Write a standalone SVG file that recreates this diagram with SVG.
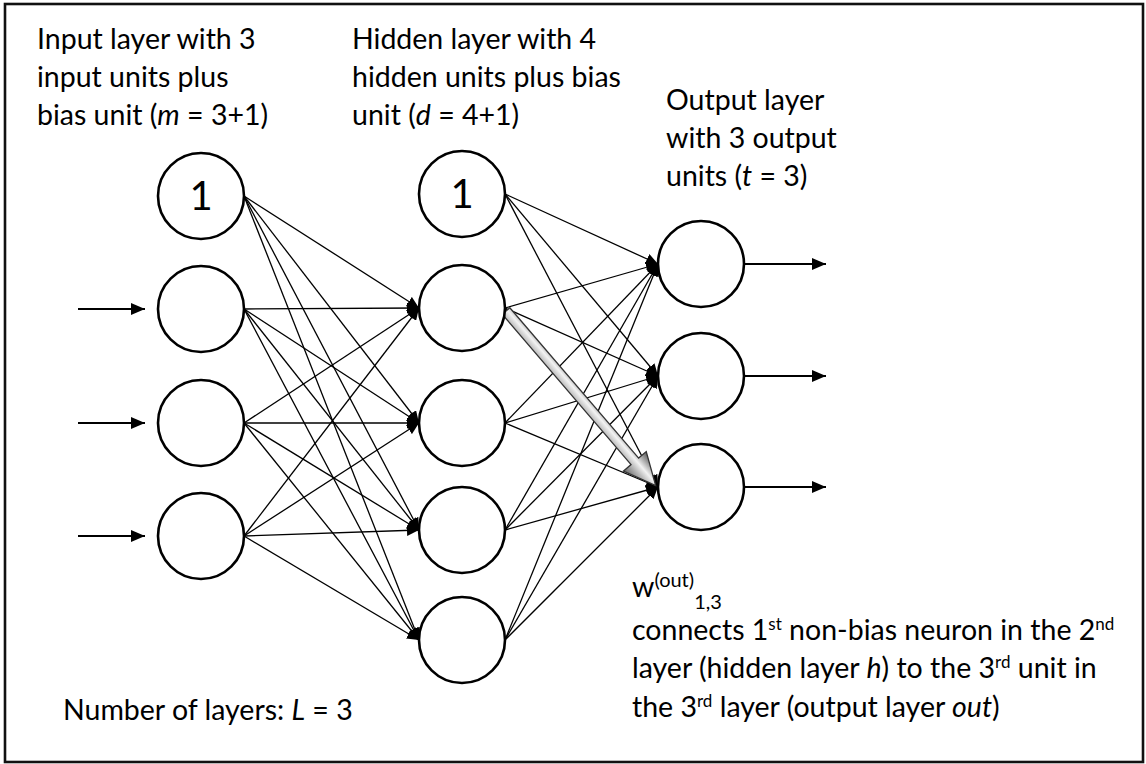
<svg xmlns="http://www.w3.org/2000/svg" width="1146" height="764" viewBox="0 0 1146 764">
<style>
.node{fill:#fff;stroke:#000;stroke-width:2.6}
.edge{stroke:#000;stroke-width:1.3;fill:none;marker-end:url(#ah)}
.io{stroke:#000;stroke-width:2;fill:none;marker-end:url(#big)}
text{font-family:Lato,"Noto Sans","DejaVu Sans",sans-serif;font-size:28.5px;fill:#000}
.bias{font-size:40px;text-anchor:middle}
.sup{font-size:17px}
.supw{font-size:20px}
</style>
<defs>
<marker id="ah" markerUnits="userSpaceOnUse" markerWidth="12" markerHeight="11" refX="12" refY="5.5" orient="auto">
<path d="M0,0 L12,5.5 L0,11 z" fill="#000"/>
</marker>
<marker id="big" markerUnits="userSpaceOnUse" markerWidth="14" markerHeight="12" refX="14" refY="6" orient="auto">
<path d="M0,0 L14,6 L0,12 z" fill="#000"/>
</marker>
<linearGradient id="gg" x1="0" y1="0" x2="0" y2="1">
<stop offset="0" stop-color="#555"/>
<stop offset="0.45" stop-color="#f2f2f2"/>
<stop offset="1" stop-color="#666"/>
</linearGradient>
</defs>
<rect x="5" y="4" width="1138" height="758" fill="#fff" stroke="#111" stroke-width="2.6"/>

<g id="labels">
<text x="37" y="49">Input layer with 3</text>
<text x="37" y="87">input units plus</text>
<text x="37" y="125">bias unit (<tspan font-style="italic">m</tspan> = 3+1)</text>
<text x="352" y="49">Hidden layer with 4</text>
<text x="352" y="87">hidden units plus bias</text>
<text x="352" y="125">unit (<tspan font-style="italic">d</tspan> = 4+1)</text>
<text x="666" y="110">Output layer</text>
<text x="666" y="148">with 3 output</text>
<text x="666" y="186">units (<tspan font-style="italic">t</tspan> = 3)</text>
<text x="63" y="720">Number of layers: <tspan font-style="italic">L</tspan> = 3</text>
<text x="632" y="597">w<tspan class="supw" dy="-10">(out)</tspan><tspan class="supw" dy="22">1,3</tspan></text>
<text x="632" y="640">connects 1<tspan class="sup" dy="-10">st</tspan><tspan dy="10"> non-bias neuron in the 2</tspan><tspan class="sup" dy="-10">nd</tspan></text>
<text x="632" y="678">layer (hidden layer <tspan font-style="italic">h</tspan>) to the 3<tspan class="sup" dy="-10">rd</tspan><tspan dy="10"> unit in</tspan></text>
<text x="632" y="717">the 3<tspan class="sup" dy="-10">rd</tspan><tspan dy="10"> layer (output layer </tspan><tspan font-style="italic">out</tspan>)</text>
</g>

<g id="connectors">
<line class="io" x1="78" y1="309" x2="145" y2="309"/>
<line class="io" x1="78" y1="423" x2="145" y2="423"/>
<line class="io" x1="78" y1="536" x2="145" y2="536"/>
<line class="edge" x1="244" y1="196" x2="419" y2="308"/>
<line class="edge" x1="244" y1="196" x2="419" y2="423"/>
<line class="edge" x1="244" y1="196" x2="419" y2="530"/>
<line class="edge" x1="244" y1="196" x2="419" y2="640"/>
<line class="edge" x1="244" y1="309" x2="419" y2="308"/>
<line class="edge" x1="244" y1="309" x2="419" y2="423"/>
<line class="edge" x1="244" y1="309" x2="419" y2="530"/>
<line class="edge" x1="244" y1="309" x2="419" y2="640"/>
<line class="edge" x1="244" y1="423" x2="419" y2="308"/>
<line class="edge" x1="244" y1="423" x2="419" y2="423"/>
<line class="edge" x1="244" y1="423" x2="419" y2="530"/>
<line class="edge" x1="244" y1="423" x2="419" y2="640"/>
<line class="edge" x1="244" y1="536" x2="419" y2="308"/>
<line class="edge" x1="244" y1="536" x2="419" y2="423"/>
<line class="edge" x1="244" y1="536" x2="419" y2="530"/>
<line class="edge" x1="244" y1="536" x2="419" y2="640"/>
<line class="edge" x1="505" y1="194" x2="658" y2="264"/>
<line class="edge" x1="505" y1="194" x2="658" y2="376"/>
<line class="edge" x1="505" y1="194" x2="658" y2="487"/>
<line class="edge" x1="505" y1="308" x2="658" y2="264"/>
<line class="edge" x1="505" y1="308" x2="658" y2="376"/>
<line class="edge" x1="505" y1="308" x2="658" y2="487"/>
<line class="edge" x1="505" y1="423" x2="658" y2="264"/>
<line class="edge" x1="505" y1="423" x2="658" y2="376"/>
<line class="edge" x1="505" y1="423" x2="658" y2="487"/>
<line class="edge" x1="505" y1="530" x2="658" y2="264"/>
<line class="edge" x1="505" y1="530" x2="658" y2="376"/>
<line class="edge" x1="505" y1="530" x2="658" y2="487"/>
<line class="edge" x1="505" y1="640" x2="658" y2="264"/>
<line class="edge" x1="505" y1="640" x2="658" y2="376"/>
<line class="edge" x1="505" y1="640" x2="658" y2="487"/>
<line class="io" x1="744" y1="264" x2="826" y2="264"/>
<line class="io" x1="744" y1="376" x2="826" y2="376"/>
<line class="io" x1="744" y1="487" x2="826" y2="487"/>
<g id="highlight" transform="translate(506,311) rotate(49.4)">
<polygon points="0,-5 198,-5 198,-15 230,0 198,15 198,5 0,5" fill="url(#gg)" stroke="#333" stroke-width="1.3"/>
</g>
</g>

<g id="in_bias"><circle class="node" cx="201" cy="196" r="43"/><text class="bias" x="201" y="210">1</text></g>
<g id="in_1"><circle class="node" cx="201" cy="309" r="43"/></g>
<g id="in_2"><circle class="node" cx="201" cy="423" r="43"/></g>
<g id="in_3"><circle class="node" cx="201" cy="536" r="43"/></g>
<g id="hid_bias"><circle class="node" cx="462" cy="194" r="43"/><text class="bias" x="462" y="208">1</text></g>
<g id="hid_1"><circle class="node" cx="462" cy="308" r="43"/></g>
<g id="hid_2"><circle class="node" cx="462" cy="423" r="43"/></g>
<g id="hid_3"><circle class="node" cx="462" cy="530" r="43"/></g>
<g id="hid_4"><circle class="node" cx="462" cy="640" r="43"/></g>
<g id="out_1"><circle class="node" cx="701" cy="264" r="43"/></g>
<g id="out_2"><circle class="node" cx="701" cy="376" r="43"/></g>
<g id="out_3"><circle class="node" cx="701" cy="487" r="43"/></g>
</svg>
